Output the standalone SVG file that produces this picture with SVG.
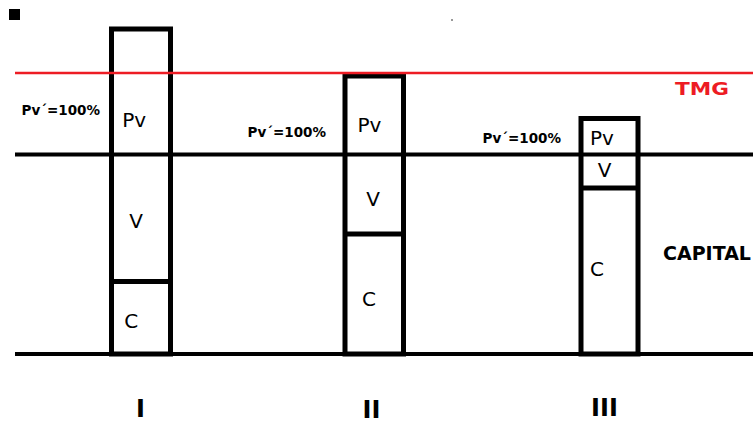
<svg xmlns="http://www.w3.org/2000/svg" width="753" height="421" viewBox="0 0 753 421">
<style>
.bar{fill:none;stroke:#000;stroke-width:5}
.div{stroke:#000;stroke-width:5}
.axis{stroke:#000;stroke-width:4}
.lbl{font-family:"DejaVu Sans",Verdana,sans-serif;font-size:20px;fill:#000;text-anchor:middle}
.pct{font-family:"DejaVu Sans",Verdana,sans-serif;font-size:13.5px;font-weight:bold;fill:#000}
.num{font-family:"DejaVu Sans",Verdana,sans-serif;font-size:24px;font-weight:bold;fill:#000;text-anchor:middle}
</style>
<rect width="753" height="421" fill="#fff"/>
<rect x="9" y="9" width="11" height="11" fill="#000"/>
<rect x="451" y="19" width="2" height="2" fill="#999"/>
<g id="connectors">
<line class="axis" x1="15" y1="154.5" x2="753" y2="154.5"/>
<line class="axis" x1="15" y1="354" x2="753" y2="354"/>
</g>
<g id="bar1">
<rect class="bar" x="111.5" y="29" width="59" height="325"/>
<line class="div" x1="111.5" y1="281.5" x2="170.5" y2="281.5"/>
<text class="lbl" x="134.2" y="126.5">Pv</text>
<text class="lbl" x="136" y="228">V</text>
<text class="lbl" x="131.3" y="328">C</text>
<text class="pct" x="21.5" y="115">Pv´=100%</text>
<text class="num" x="140.5" y="416.7">I</text>
</g>
<g id="bar2">
<rect class="bar" x="345" y="76" width="58.5" height="278"/>
<line class="div" x1="345" y1="234" x2="403.5" y2="234"/>
<text class="lbl" x="369.5" y="131.5">Pv</text>
<text class="lbl" x="373" y="205.5">V</text>
<text class="lbl" x="369" y="305.5">C</text>
<text class="pct" x="247.5" y="137">Pv´=100%</text>
<text class="num" x="371.5" y="418.3">II</text>
</g>
<g id="bar3">
<rect class="bar" x="581" y="118.5" width="57" height="235.5"/>
<line class="div" x1="581" y1="188" x2="638" y2="188"/>
<text class="lbl" x="602" y="145">Pv</text>
<text class="lbl" x="604.7" y="176.5">V</text>
<text class="lbl" x="597" y="276">C</text>
<text class="pct" x="482.5" y="143">Pv´=100%</text>
<text class="num" x="604.5" y="416">III</text>
</g>
<g id="tmg">
<line x1="15" y1="73" x2="753" y2="73" stroke="#ed1c24" stroke-width="2.5"/>
<text x="675" y="95" font-family="DejaVu Sans,Verdana,sans-serif" font-size="18" font-weight="bold" fill="#ed1c24" textLength="54" lengthAdjust="spacingAndGlyphs">TMG</text>
</g>
<g id="capital">
<text x="663" y="260" font-family="DejaVu Sans,Verdana,sans-serif" font-size="19" font-weight="bold" fill="#000">CAPITAL</text>
</g>
</svg>
